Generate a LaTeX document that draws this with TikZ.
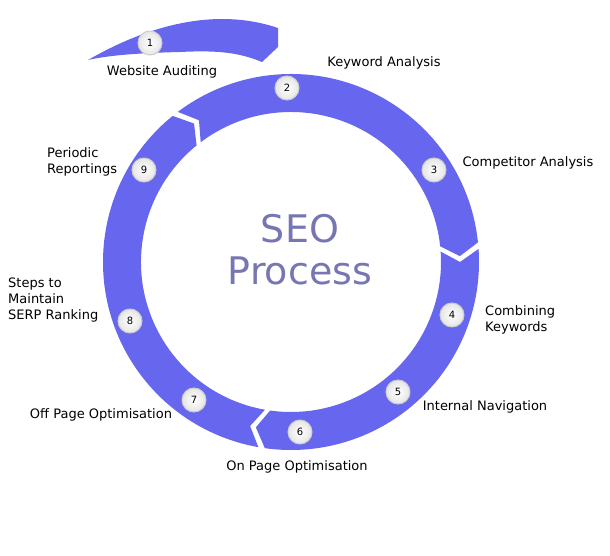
\documentclass[tikz,border=0pt]{standalone}
\usepackage{fontspec}
\setmainfont{DejaVu Sans}
\definecolor{ringblue}{RGB}{102,102,238}
\definecolor{seogray}{RGB}{118,118,178}
\newcommand{\ringpart}[2]{%
  \fill[ringblue] (#1:188) arc[start angle=#1, end angle=#2, radius=188]
    -- ({#2-4}:169) -- (#2:150) arc[start angle=#2, end angle=#1, radius=150]
    -- ({#1-4}:169) -- cycle;}
\tikzset{
  stepnum/.style={circle, draw=gray!40, line width=1pt, inner color=white, outer color=gray!20,
    minimum size=24pt, inner sep=0pt, font=\fontsize{10}{10}\selectfont},
  steplabel/.style={font=\fontsize{13}{16}\selectfont, inner sep=0pt},
  stepleft/.style={steplabel, anchor=west, align=left}
}
\begin{document}
\begin{tikzpicture}[x=1pt, y=1pt]
  \useasboundingbox (0,0) rectangle (610,555);
  % ring pieces
  \begin{scope}[shift={(291,293)}]
    \ringpart{6}{127}
    \ringpart{129}{260}
    \ringpart{262}{364}
  \end{scope}
  % loose piece on top
  \fill[ringblue] (88,495) .. controls (140,525) and (210,550) .. (278,527)
    -- (278,508) -- (262,493) .. controls (240,502) and (220,505) .. (180,503)
    .. controls (140,502) and (110,500) .. cycle;
  % title
  \node[text=seogray, font=\fontsize{38}{38}\selectfont] (seo) at (300,326) {SEO};
  \node[text=seogray, font=\fontsize{38}{38}\selectfont] (process) at (300,284) {Process};
  % numbers
  \node[stepnum] (n1) at (150,512) {1};
  \node[stepnum] (n2) at (287,467) {2};
  \node[stepnum] (n3) at (434,385) {3};
  \node[stepnum] (n4) at (452,240) {4};
  \node[stepnum] (n5) at (398,163) {5};
  \node[stepnum] (n6) at (300,123) {6};
  \node[stepnum] (n7) at (194,155) {7};
  \node[stepnum] (n8) at (130,234) {8};
  \node[stepnum] (n9) at (144,385) {9};
  % labels
  \node[steplabel] (l1) at (162,483) {Website Auditing};
  \node[steplabel] (l2) at (384,492) {Keyword Analysis};
  \node[steplabel] (l3) at (528,392) {Competitor Analysis};
  \node[stepleft] (l4) at (485,235) {Combining\\Keywords};
  \node[steplabel] (l5) at (485,148) {Internal Navigation};
  \node[steplabel] (l6) at (297,88) {On Page Optimisation};
  \node[steplabel] (l7) at (101,140) {Off Page Optimisation};
  \node[stepleft] (l8) at (8,255) {Steps to\\Maintain\\SERP Ranking};
  \node[stepleft] (l9) at (47,393) {Periodic\\Reportings};
\end{tikzpicture}
\end{document}
